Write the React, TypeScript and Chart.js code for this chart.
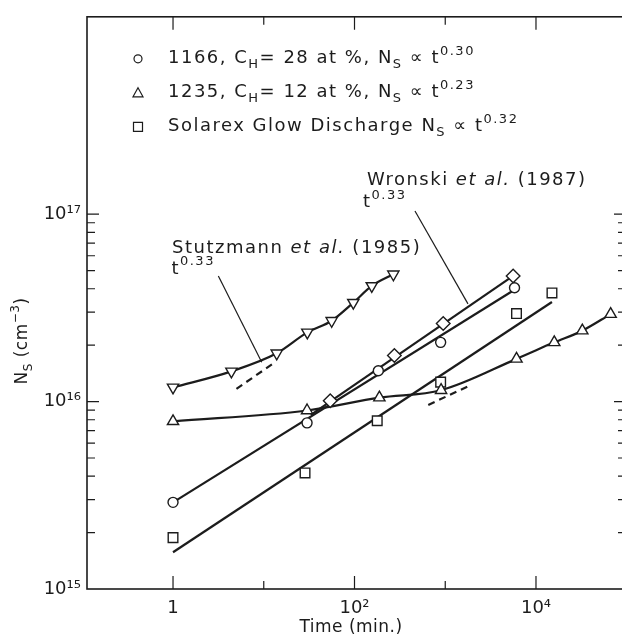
import React, { useEffect, useRef } from 'react';
import { Chart, registerables } from 'chart.js';

Chart.register(...registerables);

// ---------- data ----------
// 1166, C_H = 28 at% (circles)
const circleT = [1, 30, 183, 890, 5800];
const circleN = [2.9e15, 7.7e15, 1.46e16, 2.07e16, 4.05e16];
// 1235, C_H = 12 at% (triangles)
const triT = [1, 30, 188, 900, 6100, 15900, 32400, 66500];
const triN = [7.85e15, 8.96e15, 1.05e16, 1.15e16, 1.69e16, 2.07e16, 2.39e16, 2.93e16];
// Solarex glow discharge (squares)
const sqT = [1, 28.5, 178, 890, 6100, 15000];
const sqN = [1.88e15, 4.16e15, 7.9e15, 1.27e16, 2.95e16, 3.8e16];
// Wronski et al. (1987) (diamonds)
const wrT = [54, 275, 950, 5600];
const wrN = [1.01e16, 1.76e16, 2.61e16, 4.68e16];
// Stutzmann et al. (1985) (inverted triangles)
const stT = [1, 4.4, 13.9, 30.2, 56, 97, 155, 268];
const stN = [1.19e16, 1.45e16, 1.81e16, 2.34e16, 2.7e16, 3.37e16, 4.14e16, 4.78e16];

// fitted power-law lines
const circleFitT = [1, 5800];
const circleFitN = [2.9e15, 3.95e16];
const sqFitT = [1, 15000];
const sqFitN = [1.57e15, 3.4e16];
const wrFitT = [33, 5600];
const wrFitN = [8.5e15, 4.68e16];
// dashed t^0.33 / t^0.23 guides
const stDashT = [5.0, 13.3];
const stDashN = [1.17e16, 1.62e16];
const triDashT = [650, 1950];
const triDashN = [9.6e15, 1.23e16];
// annotation leader lines
const stLeaderT = [3.16, 9.5];
const stLeaderN = [4.68e16, 1.62e16];
const wrLeaderT = [464, 1780];
const wrLeaderN = [1.04e17, 3.32e16];

// ticks
const xLabelTicks = [1, 100, 10000];
const xTickLabels = ['1', '10²', '10⁴'];
const xMinorTicks = [10, 1000];
const yLabelTicks = [1e15, 1e16, 1e17];
const yTickLabels = ['10¹⁵', '10¹⁶', '10¹⁷'];
const yMajorTicks = [1e16, 1e17];
const yMinorMult = [2, 3, 4, 5, 6, 7, 8, 9];
const yMinorDecades = [1e15, 1e16];

// ---------- styling ----------
const INK = '#1c1c1c';
const FONT = "'DejaVu Sans', sans-serif";
const X_MIN = Math.pow(10, -0.948);
const X_MAX = Math.pow(10, 4.992);
const Y_MIN = 1e15;
const Y_MAX = Math.pow(10, 18.053);

type Seg = { t: string; k?: 'sub' | 'sup' | 'it' };

const legendRows: { sym: string; segs: Seg[] }[] = [
  { sym: 'circle', segs: [{ t: '1166, C' }, { t: 'H', k: 'sub' }, { t: '= 28 at %, N' }, { t: 'S', k: 'sub' }, { t: ' ∝ t' }, { t: '0.30', k: 'sup' }] },
  { sym: 'triangle', segs: [{ t: '1235, C' }, { t: 'H', k: 'sub' }, { t: '= 12 at %, N' }, { t: 'S', k: 'sub' }, { t: ' ∝ t' }, { t: '0.23', k: 'sup' }] },
  { sym: 'square', segs: [{ t: 'Solarex Glow Discharge N' }, { t: 'S', k: 'sub' }, { t: ' ∝ t' }, { t: '0.32', k: 'sup' }] },
];

const annotations: { x: number; y: number; segs: Seg[] }[] = [
  { x: 0.975, y: 6.59e16, segs: [{ t: 'Stutzmann ' }, { t: 'et al.', k: 'it' }, { t: ' (1985)' }] },
  { x: 0.96, y: 5.09e16, segs: [{ t: 't' }, { t: '0.33', k: 'sup' }] },
  { x: 137, y: 1.52e17, segs: [{ t: 'Wronski ' }, { t: 'et al.', k: 'it' }, { t: ' (1987)' }] },
  { x: 124, y: 1.15e17, segs: [{ t: 't' }, { t: '0.33', k: 'sup' }] },
];

const yTitle: Seg[] = [{ t: 'N' }, { t: 'S', k: 'sub' }, { t: ' (cm' }, { t: '−3', k: 'sup' }, { t: ')' }];
const xTitle = 'Time (min.)';

function setFont(ctx: CanvasRenderingContext2D, s: Seg, size: number) {
  const small = s.k === 'sub' || s.k === 'sup';
  const fs = small ? Math.round(size * 0.72) : size;
  ctx.font = `${s.k === 'it' ? 'italic ' : ''}${fs}px ${FONT}`;
}
function measureRich(ctx: CanvasRenderingContext2D, segs: Seg[], size: number) {
  let w = 0;
  for (const s of segs) {
    setFont(ctx, s, size);
    w += ctx.measureText(s.t).width;
  }
  return w;
}
function drawRich(ctx: CanvasRenderingContext2D, segs: Seg[], x: number, y: number, size: number) {
  let cx = x;
  ctx.textAlign = 'left';
  ctx.textBaseline = 'middle';
  for (const s of segs) {
    setFont(ctx, s, size);
    const dy = s.k === 'sub' ? size * 0.32 : s.k === 'sup' ? -size * 0.42 : 0;
    ctx.fillText(s.t, cx, y + dy);
    cx += ctx.measureText(s.t).width;
  }
}

function drawSymbol(ctx: CanvasRenderingContext2D, sym: string, x: number, y: number) {
  ctx.beginPath();
  if (sym === 'circle') {
    ctx.arc(x, y, 4, 0, Math.PI * 2);
  } else if (sym === 'triangle') {
    ctx.moveTo(x, y - 5);
    ctx.lineTo(x + 5, y + 4);
    ctx.lineTo(x - 5, y + 4);
    ctx.closePath();
  } else {
    ctx.rect(x - 4.5, y - 4.5, 9, 9);
  }
  ctx.stroke();
}

const decorPlugin = {
  id: 'decor',
  afterDraw(chart: any) {
    const ctx: any = chart.ctx;
    const { left, right, top, bottom } = chart.chartArea;
    const xs = chart.scales.x;
    const ys = chart.scales.y;
    ctx.save();
    ctx.strokeStyle = INK;
    ctx.fillStyle = INK;
    // frame
    ctx.lineWidth = 1.6;
    ctx.strokeRect(left, top, right - left, bottom - top);
    // ticks
    ctx.lineWidth = 1.2;
    const vt = (v: number, len: number) => {
      const px = xs.getPixelForValue(v);
      ctx.beginPath();
      ctx.moveTo(px, bottom);
      ctx.lineTo(px, bottom - len);
      ctx.moveTo(px, top);
      ctx.lineTo(px, top + len);
      ctx.stroke();
    };
    xLabelTicks.forEach((v) => vt(v, 13));
    xMinorTicks.forEach((v) => vt(v, 8));
    const ht = (v: number, len: number) => {
      const py = ys.getPixelForValue(v);
      ctx.beginPath();
      ctx.moveTo(left, py);
      ctx.lineTo(left + len, py);
      ctx.moveTo(right, py);
      ctx.lineTo(right - len, py);
      ctx.stroke();
    };
    yMajorTicks.forEach((v) => ht(v, 12));
    yMinorDecades.forEach((d) => yMinorMult.forEach((m) => ht(d * m, 8)));
    // legend and annotations with a little letter spacing
    ctx.letterSpacing = '1.5px';
    ctx.lineWidth = 1.2;
    legendRows.forEach((r, i) => {
      const y = top + 42 + i * 34;
      drawSymbol(ctx, r.sym, left + 51, y);
      drawRich(ctx, r.segs, left + 81, y, 18);
    });
    annotations.forEach((a) => {
      drawRich(ctx, a.segs, xs.getPixelForValue(a.x), ys.getPixelForValue(a.y), 18);
    });
    ctx.letterSpacing = '0.5px';
    // axis titles
    ctx.font = `17px ${FONT}`;
    ctx.textAlign = 'center';
    ctx.textBaseline = 'middle';
    ctx.fillText(xTitle, 351, 628);
    const w = measureRich(ctx, yTitle, 17);
    ctx.translate(23, 341);
    ctx.rotate(-Math.PI / 2);
    drawRich(ctx, yTitle, -w / 2, 0, 17);
    ctx.restore();
  },
};

const pts = (xs: number[], ys: number[]) => xs.map((x, i) => ({ x, y: ys[i] }));

const markerDs = (label: string, xs: number[], ys: number[], style: string, r: number, rot = 0) => ({
  label,
  data: pts(xs, ys),
  showLine: false,
  pointStyle: style,
  pointRadius: r,
  pointRotation: rot,
  pointBorderWidth: 1.4,
  pointBorderColor: INK,
  pointBackgroundColor: '#ffffff',
  borderColor: INK,
  backgroundColor: '#ffffff',
});

const lineDs = (label: string, xs: number[], ys: number[], opts: any = {}) => ({
  label,
  data: pts(xs, ys),
  showLine: true,
  pointRadius: 0,
  borderColor: INK,
  borderWidth: 2.2,
  fill: false,
  ...opts,
});

export default function App() {
  const ref = useRef<HTMLCanvasElement>(null);
  useEffect(() => {
    if (!ref.current) return;
    const chart = new Chart(ref.current, {
      type: 'scatter',
      data: {
        datasets: [
          markerDs('1166', circleT, circleN, 'circle', 5),
          markerDs('1235', triT, triN, 'triangle', 6.5),
          markerDs('Solarex', sqT, sqN, 'rect', 6.8),
          markerDs('Wronski', wrT, wrN, 'rectRot', 6.8),
          markerDs('Stutzmann', stT, stN, 'triangle', 6.5, 180),
          lineDs('1166 fit', circleFitT, circleFitN),
          lineDs('Solarex fit', sqFitT, sqFitN),
          lineDs('Wronski fit', wrFitT, wrFitN),
          lineDs('1235 curve', triT, triN, { cubicInterpolationMode: 'monotone' }),
          lineDs('Stutzmann curve', stT, stN, { cubicInterpolationMode: 'monotone' }),
          lineDs('Stutzmann t0.33', stDashT, stDashN, { borderDash: [7, 5] }),
          lineDs('1235 t0.23', triDashT, triDashN, { borderDash: [7, 5] }),
          lineDs('Stutzmann leader', stLeaderT, stLeaderN, { borderWidth: 1.2 }),
          lineDs('Wronski leader', wrLeaderT, wrLeaderN, { borderWidth: 1.2 }),
        ],
      },
      options: {
        animation: false,
        responsive: false,
        events: [],
        layout: { padding: { top: 15, right: 14, left: 0, bottom: 0 } },
        plugins: { legend: { display: false }, tooltip: { enabled: false } },
        scales: {
          x: {
            type: 'logarithmic',
            min: X_MIN,
            max: X_MAX,
            grid: { display: false, drawTicks: false },
            border: { display: false },
            afterBuildTicks: (s: any) => {
              s.ticks = xLabelTicks.map((v) => ({ value: v }));
            },
            afterFit: (s: any) => {
              s.height = 52;
            },
            ticks: {
              autoSkip: false,
              maxRotation: 0,
              padding: 9,
              color: INK,
              font: { family: FONT, size: 18 },
              callback: (_v: any, i: number) => xTickLabels[i],
            },
          },
          y: {
            type: 'logarithmic',
            min: Y_MIN,
            max: Y_MAX,
            grid: { display: false, drawTicks: false },
            border: { display: false },
            afterBuildTicks: (s: any) => {
              s.ticks = yLabelTicks.map((v) => ({ value: v }));
            },
            afterFit: (s: any) => {
              s.width = 87;
            },
            ticks: {
              autoSkip: false,
              padding: 6,
              color: INK,
              font: { family: FONT, size: 18 },
              callback: (_v: any, i: number) => yTickLabels[i],
            },
          },
        },
      } as any,
      plugins: [decorPlugin],
    });
    return () => chart.destroy();
  }, []);
  return (
    <div style={{ position: 'fixed', left: 0, top: 0, width: 622, height: 641, overflow: 'hidden', background: '#fff' }}>
      <canvas ref={ref} width={640} height={641} style={{ display: 'block', width: 640, height: 641 }} />
    </div>
  );
}
